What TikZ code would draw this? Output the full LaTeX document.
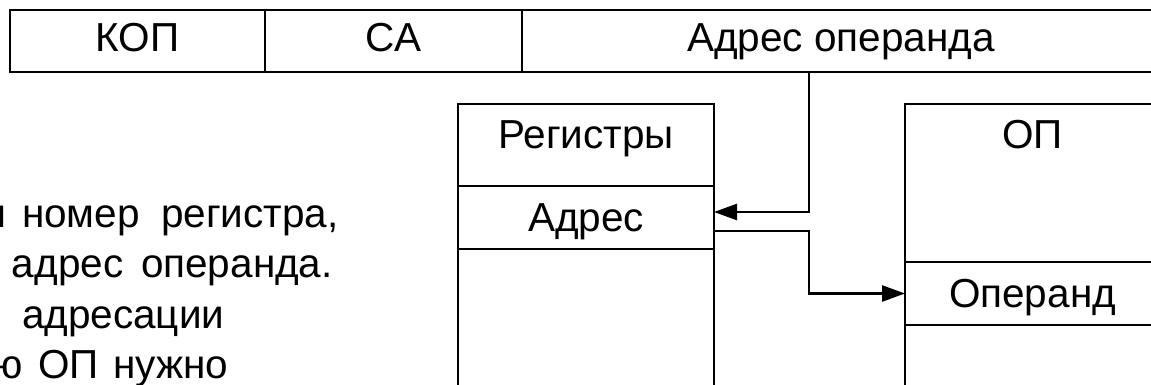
\documentclass[tikz,border=0pt]{standalone}
\usepackage{fontspec}
\setmainfont{Liberation Sans}
\usetikzlibrary{arrows.meta,calc}
\newcommand\diafs{\fontsize{40.5}{48}\selectfont}
\tikzset{
  cell/.style={draw, rectangle, inner sep=0pt, outer sep=0pt, text height=29pt, text depth=2pt, font=\diafs},
  toprow/.style={cell, minimum height=62pt, text depth=7pt},
  txt/.style={inner sep=0pt, outer sep=0pt, anchor=base west, font=\diafs},
  arr/.style={-{Triangle[length=23pt,width=16pt]}},
}
\begin{document}
\begin{tikzpicture}[x=1pt,y=-1pt,line width=2.7pt]
\useasboundingbox (0,0) rectangle (1151,385);
\clip (0,0) rectangle (1151,385);
% instruction format
\node[toprow, minimum width=255pt] (kop) at (137.5,41) {КОП};
\node[toprow, minimum width=257pt] (sa) at (393.5,41) {СА};
\node[toprow, minimum width=638pt] (addr) at (841,41) {Адрес операнда};
% registers
\node[cell, minimum width=256pt, minimum height=82pt] (regt) at (586,145) {};
\node[txt, anchor=base] (regtxt) at (586,149) {Регистры};
\node[cell, minimum width=256pt, minimum height=63pt] (regaddr) at (586,217.5) {Адрес};
\node[cell, minimum width=256pt, minimum height=171pt] (regrest) at (586,334.5) {};
% main memory
\node[cell, minimum width=255pt, minimum height=158pt] (opt) at (1032.5,183) {};
\node[txt, anchor=base] (optxt) at (1032.5,149) {ОП};
\node[cell, minimum width=255pt, minimum height=63pt] (operand) at (1032.5,293.5) {Операнд};
\node[cell, minimum width=255pt, minimum height=95pt] (oprest) at (1032.5,372.5) {};
% connectors
\coordinate (bus) at (809,0);
\draw[arr] (addr.south -| bus) |- ([yshift=5.5pt]regaddr.east);
\draw[arr] ([yshift=-13.5pt]regaddr.east) -| (bus |- operand.west) -- (operand.west);
% clipped paragraph text
\node[txt, anchor=base east] (w1) at (6,227) {я};
\node[txt] (w2) at (22,227) {номер};
\node[txt] (w3) at (161,227) {регистра,};
\node[txt] (w4) at (12,277) {адрес};
\node[txt] (w5) at (141,277) {операнда.};
\node[txt] (w6) at (22,328) {адресации};
\node[txt, anchor=base east] (w7) at (23,378) {ю};
\node[txt] (w8) at (38,378) {ОП};
\node[txt] (w9) at (113,378) {нужно};
\end{tikzpicture}
\end{document}
